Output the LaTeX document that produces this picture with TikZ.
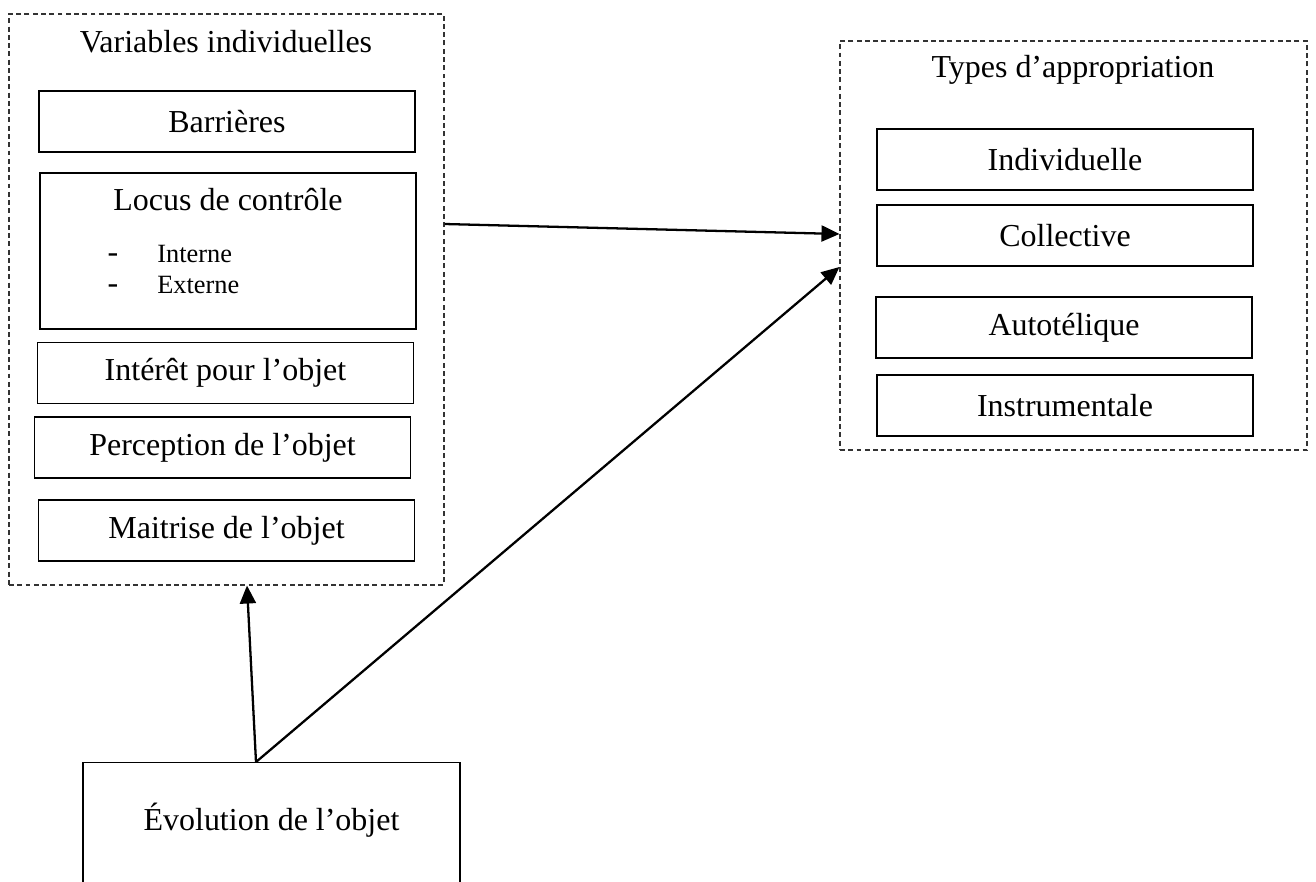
\documentclass[tikz,border=0pt]{standalone}
\usepackage{fontspec}
\setmainfont{Liberation Serif}
\usepackage{tikz}
\usetikzlibrary{arrows.meta,positioning}

\begin{document}
\begin{tikzpicture}[every node/.style={font=\fontsize{18.2}{21}\selectfont},
  frame/.style={draw=black!80,dashed,dash pattern=on 2.8pt off 1.9pt,line width=0.6pt},
  item/.style={draw,line width=0.7pt,minimum width=7.52cm,minimum height=1.22cm,inner sep=0pt},
  link/.style={line width=1.3pt,-{Triangle[length=0.36cm,width=0.32cm]}}]
  \useasboundingbox (0,0) rectangle (26.32,-17.64);
  % variables individuelles
  \node[frame,minimum width=8.7cm,minimum height=11.42cm] (vars) at (4.53,-5.99) {};
  \node (varstitle) at (4.52,-0.84) {Variables individuelles};
  \node[item] (barr) at (4.54,-2.43) {Barrières};
  \node[item,minimum height=3.12cm] (locus) at (4.56,-5.02) {};
  \node (locustitle) at (4.56,-4.0) {Locus de contrôle};
  \foreach \lab/\y in {Interne/-5.24, Externe/-5.86} {
     \node[anchor=base,inner sep=0pt] (d\lab) at (2.26,\y) {-};
     \node[anchor=base west,inner sep=0pt,font=\fontsize{15}{18}\selectfont] (\lab) at (3.14,\y) {\lab};
  }
  \node[item] (inter) at (4.51,-7.46) {Intérêt pour l’objet};
  \node[item] (perc) at (4.45,-8.95) {Perception de l’objet};
  \node[item] (mait) at (4.53,-10.61) {Maitrise de l’objet};
  % types d'appropriation
  \node[frame,minimum width=9.34cm,minimum height=8.18cm] (types) at (21.47,-4.91) {};
  \node (typestitle) at (21.46,-1.4) {Types d’appropriation};
  \node[item] (indiv) at (21.3,-3.19) {Individuelle};
  \node[item] (coll) at (21.3,-4.71) {Collective};
  \node[item] (auto) at (21.28,-6.55) {Autotélique};
  \node[item] (instr) at (21.3,-8.11) {Instrumentale};
  % evolution
  \node[item,minimum width=7.54cm,minimum height=2.76cm,text depth=0.6cm,anchor=north] (evo) at (5.43,-15.24) {Évolution de l’objet};
  \coordinate (evotop) at ([xshift=-0.31cm]evo.north);
  % liens
  \draw[link] ([yshift=1.51cm]vars.east) -- ([yshift=0.23cm]types.west);
  \draw[link] (evotop) -- ([yshift=-0.43cm]types.west);
  \draw[link] (evotop) -- ([xshift=0.41cm]vars.south);
\end{tikzpicture}
\end{document}
